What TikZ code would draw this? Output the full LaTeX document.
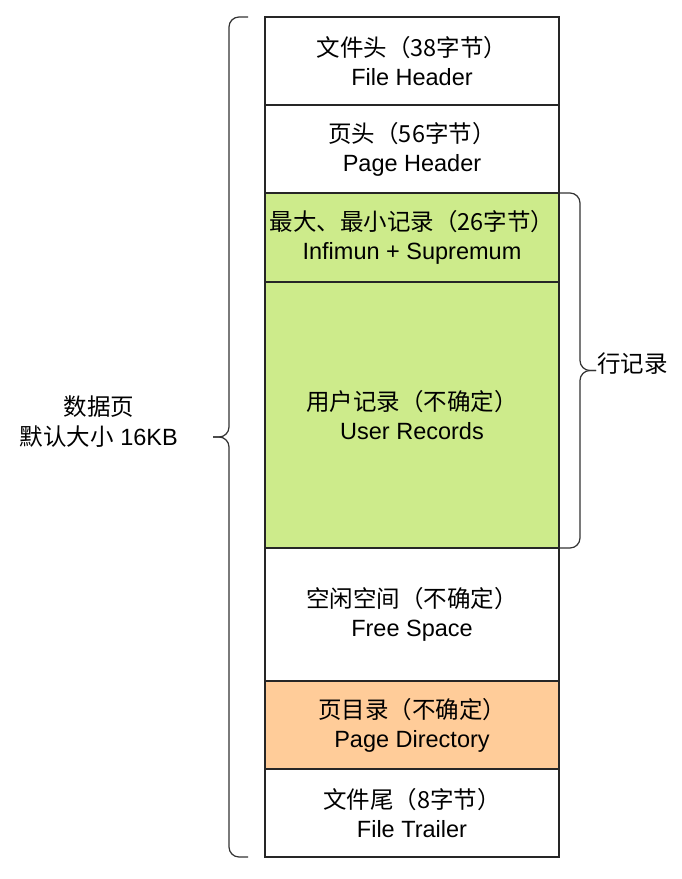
\documentclass[tikz,border=0pt]{standalone}
\usepackage{fontspec}
\setmainfont{Liberation Sans}
\newfontfamily\cjk{Noto Sans CJK SC}
\usetikzlibrary{positioning,calc}
\definecolor{recgreen}{HTML}{CDEB8B}
\definecolor{dirorange}{HTML}{FFCC99}

\begin{document}
\begin{tikzpicture}[x=1pt, y=1pt,
    base/.style = {rectangle, draw=black!85, line width=1.3pt, outer sep=0pt,
minimum width=294pt, minimum height=88pt, inner sep=0pt,
text centered, align=center, font=\fontsize{23.5}{29}\selectfont},
record/.style = {base, fill=recgreen},
pagedir/.style = {base, fill=dirorange},
brace/.style = {draw=black!80, line width=1.2pt, rounded corners=10pt},
tag/.style = {inner sep=0pt, align=center, font=\fontsize{23.5}{30}\selectfont},
node distance=0pt
]
  \useasboundingbox (0,0) rectangle (681,-879);

  \node (fh) [base] at (412,-61) {{\cjk 文件头（38字节）}\\File Header};
  \node (ph) [base, below=of fh] {{\cjk 页头（56字节）}\\Page Header};
  \node (ir) [record, below=of ph, minimum height=89pt] {{\cjk 最大、最小记录（26字节）}\\Infimun + Supremum};
  \node (ur) [record, below=of ir, minimum height=266pt] {{\cjk 用户记录（不确定）}\\User Records};
  \node (fs) [base, below=of ur, minimum height=133pt] {{\cjk 空闲空间（不确定）}\\Free Space};
  \node (pd) [pagedir, below=of fs] {{\cjk 页目录（不确定）}\\Page Directory};
  \node (ft) [base, below=of pd] {{\cjk 文件尾（8字节）}\\File Trailer};

  % braces
  \coordinate (ltip) at ($(fh.north west)!0.5!(ft.south west)+(-52,0)$);
  \coordinate (rtip) at ($(ir.north east)!0.5!(ur.south east)+(37,0)$);
  \draw[brace] ([xshift=-17pt]fh.north west) -| ($(ltip)+(16,0)$) -- (ltip);
  \draw[brace] (ltip) -| ([xshift=-36pt]ft.south west) -- ([xshift=-17pt]ft.south west);
  \draw[brace] ([xshift=1pt]ir.north east) -| ($(rtip)+(-16,0)$) -- (rtip);
  \draw[brace] (rtip) -| ([xshift=21pt]ur.south east) -- ([xshift=1pt]ur.south east);

  \node (page) [tag, left=35pt of ltip, yshift=15pt] {{\cjk 数据页}\\{\cjk 默认大小} 16KB};
  \node (rows) [tag, right=1pt of rtip, yshift=7pt] {\cjk 行记录};

\end{tikzpicture}
\end{document}
